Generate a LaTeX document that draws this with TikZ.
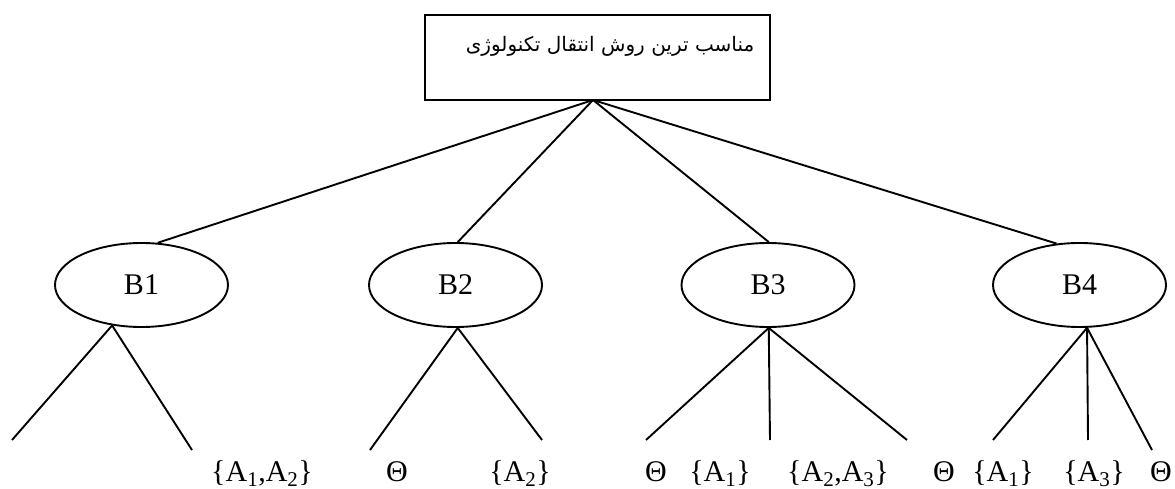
\documentclass[tikz,border=0pt]{standalone}
\usepackage{fontspec}
\setmainfont{Liberation Serif}
\newfontfamily\arabicfont[Script=Arabic]{DejaVu Sans}
\TeXXeTstate=1
\usetikzlibrary{shapes.geometric}
\begin{document}
\begin{tikzpicture}[x=1pt,y=-1pt,
  conn/.style={line width=1.9pt},
  topbox/.style={draw, line width=1.9pt, minimum width=345pt, minimum height=85pt, inner sep=0pt},
  bnode/.style={draw, line width=1.9pt, ellipse, minimum width=173pt, minimum height=84pt, inner sep=0pt, font=\fontsize{30}{34}\selectfont},
  leaf/.style={anchor=base, inner sep=0pt, font=\fontsize{30}{36}\selectfont}]
\useasboundingbox (0,0) rectangle (1175,489);
\node[topbox] (box) at (597.5,57.5) {};
\node[inner sep=0pt, font=\arabicfont\fontsize{20}{24}\selectfont] (title) at (610,46) {\beginR مناسب ترین روش انتقال تکنولوژی\endR};
\coordinate (root) at (593,100);
\node[bnode] (B1) at (141.5,285) {B1};
\node[bnode] (B2) at (455.5,285) {B2};
\node[bnode] (B3) at (768,285) {B3};
\node[bnode] (B4) at (1079.5,285) {B4};
\draw[conn] (root) -- (B1.69);
\draw[conn] (root) -- (B2.87);
\draw[conn] (root) -- (B3.89);
\draw[conn] (root) -- (B4.119);
% leaf ends
\coordinate (e11) at (12,440);
\coordinate (e12) at (192,450);
\coordinate (e21) at (370,450);
\coordinate (e22) at (542,440);
\coordinate (e31) at (646,440);
\coordinate (e32) at (770,440);
\coordinate (e33) at (907,440);
\coordinate (e41) at (993,440);
\coordinate (e42) at (1088,440);
\coordinate (e43) at (1152,450);
\draw[conn] (e11) -- (B1.234) -- (e12);
\draw[conn] (e21) -- (B2.273) -- (e22);
\draw[conn] (e31) -- (B3.271) -- (e33);
\draw[conn] (B3.271) -- (e32);
\draw[conn] (e41) -- (B4.280) -- (e43);
\draw[conn] (B4.280) -- (e42);
% labels
\node[leaf] (l1) at (262,481) {\{A\textsubscript{1},A\textsubscript{2}\}};
\node[leaf] (l2) at (397,481) {Θ};
\node[leaf] (l3) at (520,481) {\{A\textsubscript{2}\}};
\node[leaf] (l4) at (656,481) {Θ};
\node[leaf] (l5) at (720,481) {\{A\textsubscript{1}\}};
\node[leaf] (l6) at (838,481) {\{A\textsubscript{2},A\textsubscript{3}\}};
\node[leaf] (l7) at (944,481) {Θ};
\node[leaf] (l8) at (1003,481) {\{A\textsubscript{1}\}};
\node[leaf] (l9) at (1094,481) {\{A\textsubscript{3}\}};
\node[leaf] (l10) at (1161,481) {Θ};
\end{tikzpicture}
\end{document}
